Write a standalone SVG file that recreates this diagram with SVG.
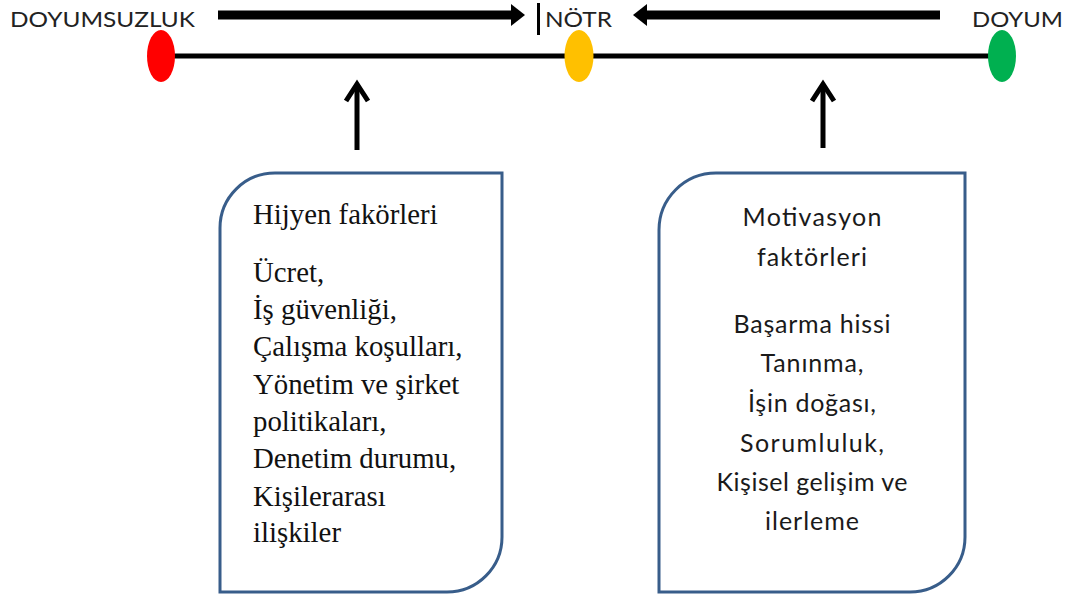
<svg xmlns="http://www.w3.org/2000/svg" width="1072" height="595" viewBox="0 0 1072 595">
  <style>
    .lbl { font-family: Lato, "Open Sans", "Liberation Sans", sans-serif; font-size: 22px; fill: #222222; }
    .serif { font-family: "Liberation Serif", "Times New Roman", serif; font-size: 28.8px; fill: #111111; }
    .sans { font-family: Lato, "Open Sans", "Liberation Sans", sans-serif; font-size: 25px; fill: #1a1a1a; text-anchor: middle; }
    .box { fill: #ffffff; stroke: #385D8A; stroke-width: 3; }
    .thick { stroke: #000000; stroke-width: 9; fill: none; }
    .axis { stroke: #000000; stroke-width: 5; fill: none; }
    .up { stroke: #000000; stroke-width: 5; fill: none; stroke-linejoin: miter; }
  </style>

  <g id="connectors">
    <line class="axis" x1="161" y1="56" x2="1002" y2="56"/>
    <line class="thick" x1="218" y1="15" x2="513" y2="15"/>
    <polygon points="511,4 525,15 511,26" fill="#000000"/>
    <line class="thick" x1="645" y1="15" x2="940" y2="15"/>
    <polygon points="647,4 633,15 647,26" fill="#000000"/>
    <line class="up" x1="357" y1="150" x2="357" y2="84"/>
    <polyline class="up" points="346,101 357,84 368,101"/>
    <line class="up" x1="823" y1="148" x2="823" y2="84"/>
    <polyline class="up" points="812,101 823,84 834,101"/>
  </g>

  <g id="node-doyumsuzluk">
    <text class="lbl" x="10" y="27" textLength="185" lengthAdjust="spacingAndGlyphs">DOYUMSUZLUK</text>
    <ellipse cx="161" cy="56" rx="14" ry="26" fill="#FF0000"/>
  </g>

  <g id="node-notr">
    <rect x="537" y="3" width="3" height="32" fill="#000000"/>
    <text class="lbl" x="545" y="27" textLength="67" lengthAdjust="spacingAndGlyphs">NÖTR</text>
    <ellipse cx="579" cy="56" rx="14.5" ry="26" fill="#FFC000"/>
  </g>

  <g id="node-doyum">
    <text class="lbl" x="972" y="27" textLength="91" lengthAdjust="spacingAndGlyphs">DOYUM</text>
    <ellipse cx="1002" cy="56" rx="14" ry="26" fill="#00B050"/>
  </g>

  <g id="node-hijyen">
    <path class="box" d="M275,173 H502 V537 A55,55 0 0 1 447,592 H220 V228 A55,55 0 0 1 275,173 Z"/>
    <text class="serif" x="253" y="224">Hijyen fakörleri</text>
    <text class="serif" x="253" y="282">Ücret,</text>
    <text class="serif" x="253" y="319">İş güvenliği,</text>
    <text class="serif" x="253" y="356">Çalışma koşulları,</text>
    <text class="serif" x="253" y="394">Yönetim ve şirket</text>
    <text class="serif" x="253" y="431">politikaları,</text>
    <text class="serif" x="253" y="468">Denetim durumu,</text>
    <text class="serif" x="253" y="506">Kişilerarası</text>
    <text class="serif" x="253" y="542">ilişkiler</text>
  </g>

  <g id="node-motivasyon">
    <path class="box" d="M716,173 H965 V537 A55,55 0 0 1 910,592 H659 V230 A57,57 0 0 1 716,173 Z"/>
    <text class="sans" x="812" y="226" textLength="139">Motivasyon</text>
    <text class="sans" x="812" y="266" textLength="110">faktörleri</text>
    <text class="sans" x="812" y="333" textLength="157">Başarma hissi</text>
    <text class="sans" x="812" y="372" textLength="103">Tanınma,</text>
    <text class="sans" x="812" y="412" textLength="128">İşin doğası,</text>
    <text class="sans" x="812" y="452" textLength="144">Sorumluluk,</text>
    <text class="sans" x="812" y="491" textLength="191">Kişisel gelişim ve</text>
    <text class="sans" x="812" y="530" textLength="94">ilerleme</text>
  </g>
</svg>
